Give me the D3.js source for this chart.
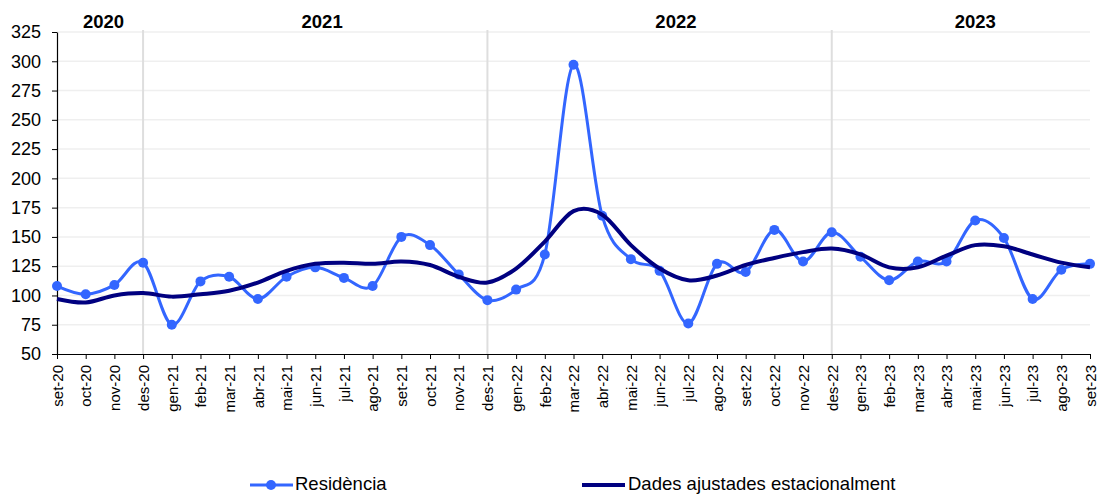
<!DOCTYPE html>
<html>
<head>
<meta charset="utf-8">
<script src="https://cdn.jsdelivr.net/npm/d3@7"></script>
<style>
  body { margin: 0; background: #fff; }
  svg { display: block; font-family: "Liberation Sans", Arial, sans-serif; }
</style>
</head>
<body>
<svg id="chart" width="1099" height="494"></svg>
<script>
// months shown on the x axis
const months = [
    "set-20", "oct-20", "nov-20", "des-20",
    "gen-21", "feb-21", "mar-21", "abr-21", "mai-21", "jun-21",
    "jul-21", "ago-21", "set-21", "oct-21", "nov-21", "des-21",
    "gen-22", "feb-22", "mar-22", "abr-22", "mai-22", "jun-22",
    "jul-22", "ago-22", "set-22", "oct-22", "nov-22", "des-22",
    "gen-23", "feb-23", "mar-23", "abr-23", "mai-23", "jun-23",
    "jul-23", "ago-23", "set-23"
];

const residencia = [
    108, 101, 109, 128,
    75, 112, 116, 97, 116, 124,
    115, 108, 150, 143, 118, 96,
    105, 135, 297, 168, 131, 121,
    76, 127, 120, 156, 129, 154,
    133, 113, 129, 129, 164, 149,
    97, 122, 127
];

const ajustades = [
    97, 94, 100, 102,
    99, 101, 104, 111, 121, 127,
    128, 127, 129, 126, 116, 111,
    123, 146, 172, 169, 143, 123,
    113, 117, 126, 132, 137, 140,
    135, 124, 124, 134, 143, 142,
    135, 128, 124
];

const yTicks = [50, 75, 100, 125, 150, 175, 200, 225, 250, 275, 300, 325];
const yearDividers = ["des-20", "des-21", "des-22"];
// year captions, placed at a fractional month index
const yearLabels = ["2020", "2021", "2022", "2023"];
const yearPos = [1.62, 9.24, 21.57, 32.0];

const seriesNames = ["Residència", "Dades ajustades estacionalment"];
const colorRes = "#3366ff";
const colorAdj = "#000080";

const svg = d3.select("#chart");
const m = { left: 57, right: 1090, top: 32, bottom: 354 };

const x = d3.scalePoint().domain(months).range([m.left, m.right]);
const xIdx = d3.scaleLinear().domain([0, months.length - 1]).range([m.left, m.right]);
const y = d3.scaleLinear().domain([50, 325]).range([m.bottom, m.top]);

// horizontal grid
svg.append("g")
    .selectAll("line")
    .data(yTicks.slice(1))
    .enter()
    .append("line")
    .attr("x1", m.left)
    .attr("x2", m.right)
    .attr("y1", (d) => y(d))
    .attr("y2", (d) => y(d))
    .attr("stroke", "#efefef")
    .attr("stroke-width", 1.5);

// year separators
svg.append("g")
    .selectAll("line")
    .data(yearDividers)
    .enter()
    .append("line")
    .attr("x1", (d) => x(d))
    .attr("x2", (d) => x(d))
    .attr("y1", m.top - 2)
    .attr("y2", m.bottom)
    .attr("stroke", "#dedede")
    .attr("stroke-width", 2);

// year captions
svg.append("g")
    .selectAll("text")
    .data(yearLabels)
    .enter()
    .append("text")
    .attr("x", (d, i) => xIdx(yearPos[i]))
    .attr("y", 28)
    .attr("text-anchor", "middle")
    .style("font-size", "18.5px")
    .style("font-weight", "bold")
    .text((d) => d);

// y axis
const yAxis = svg.append("g")
    .attr("transform", `translate(${m.left},0)`)
    .call(d3.axisLeft(y).tickValues(yTicks).tickSize(5).tickSizeOuter(0).tickPadding(11));
yAxis.select(".domain").attr("stroke", "#000").attr("stroke-width", 1.2);
yAxis.selectAll(".tick line").attr("stroke", "#000");
yAxis.selectAll("text")
    .style("font-size", "18px")
    .attr("fill", "#000");

// x axis
const xAxis = svg.append("g")
    .attr("transform", `translate(0,${m.bottom})`)
    .call(d3.axisBottom(x).tickSize(5).tickSizeOuter(0));
xAxis.select(".domain").attr("stroke", "#000").attr("stroke-width", 1.2);
xAxis.selectAll(".tick line").attr("stroke", "#000");
xAxis.selectAll("text")
    .style("font-size", "15px")
    .attr("fill", "#000")
    .attr("text-anchor", "end")
    .attr("transform", "rotate(-90)")
    .attr("x", -11)
    .attr("y", 0)
    .attr("dy", "0.35em");

const smooth = d3.curveCardinal.tension(0);

const lineRes = d3.line()
    .x((d, i) => x(months[i]))
    .y((d) => y(d))
    .curve(smooth);

svg.append("path")
    .datum(residencia)
    .attr("d", lineRes)
    .attr("fill", "none")
    .attr("stroke", colorRes)
    .attr("stroke-width", 3);

svg.append("g")
    .selectAll("circle")
    .data(residencia)
    .enter()
    .append("circle")
    .attr("cx", (d, i) => x(months[i]))
    .attr("cy", (d) => y(d))
    .attr("r", 5)
    .attr("fill", colorRes);

svg.append("path")
    .datum(ajustades)
    .attr("d", lineRes)
    .attr("fill", "none")
    .attr("stroke", colorAdj)
    .attr("stroke-width", 4);

// legend
const legend = svg.append("g");
const legRes = legend.append("g").attr("transform", "translate(250,485)");
legRes.append("line")
    .attr("x1", 0).attr("x2", 43)
    .attr("stroke", colorRes).attr("stroke-width", 3);
legRes.append("circle")
    .attr("cx", 21).attr("r", 5).attr("fill", colorRes);
legRes.append("text")
    .attr("x", 45).attr("y", 5)
    .style("font-size", "18.5px")
    .text(seriesNames[0]);

const legAdj = legend.append("g").attr("transform", "translate(582,485)");
legAdj.append("line")
    .attr("x1", 0).attr("x2", 43)
    .attr("stroke", colorAdj).attr("stroke-width", 4);
legAdj.append("text")
    .attr("x", 46).attr("y", 5)
    .style("font-size", "18.5px")
    .text(seriesNames[1]);
</script>
</body>
</html>
